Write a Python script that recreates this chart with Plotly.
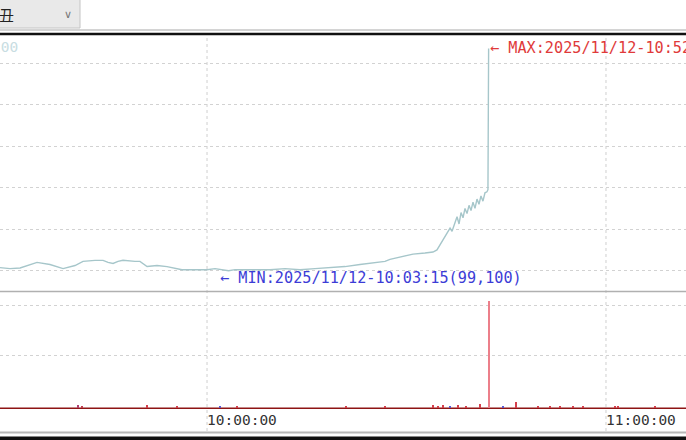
import plotly.graph_objects as go

DATE = "2025-11-12"

# ---- price series (time, price) ----
price_times = [
    "09:28:52", "09:30:22", "09:31:53", "09:33:05", "09:34:26", "09:36:23", "09:38:21",
    "09:40:09", "09:41:21", "09:43:09", "09:44:22", "09:45:07", "09:45:52", "09:46:37",
    "09:47:22", "09:49:10", "09:49:55", "09:50:59", "09:52:29", "09:53:59", "09:55:11",
    "09:56:14", "09:57:09", "09:57:54", "09:58:57", "10:00:00", "10:01:12", "10:02:15",
    "10:03:15", "10:04:13", "10:05:43", "10:07:13", "10:09:28", "10:11:44", "10:13:59",
    "10:16:14", "10:18:30", "10:20:45", "10:23:00", "10:25:16", "10:26:46", "10:27:31",
    "10:29:01", "10:30:59", "10:32:47", "10:33:59", "10:34:35", "10:35:02", "10:35:38",
    "10:36:06", "10:36:33", "10:36:51", "10:37:18", "10:37:36", "10:37:54", "10:38:12",
    "10:38:30", "10:38:48", "10:39:06", "10:39:24", "10:39:42", "10:40:00", "10:40:18",
    "10:40:36", "10:40:54", "10:41:12", "10:41:30", "10:41:48", "10:42:06", "10:42:15",
    "10:42:21",
]
prices = [
    99115, 99110, 99113, 99125, 99140, 99130, 99110,
    99125, 99145, 99150, 99150, 99140, 99135, 99145,
    99150, 99145, 99145, 99120, 99125, 99120, 99110,
    99105, 99105, 99105, 99105, 99105, 99110, 99105,
    99100, 99105, 99105, 99105, 99105, 99110, 99105,
    99110, 99115, 99120, 99130, 99140, 99145, 99155,
    99165, 99180, 99185, 99190, 99200, 99225, 99260,
    99280, 99305, 99290, 99335, 99360, 99325, 99380,
    99355, 99400, 99375, 99415, 99390, 99430, 99400,
    99445, 99420, 99460, 99435, 99475, 99480, 99490,
    100170,
]

# ---- volume series ----
vol_times = [
    "09:40:36", "09:41:12", "09:50:59", "09:55:29", "10:01:57", "10:04:31", "10:20:54",
    "10:26:46", "10:33:59", "10:34:44", "10:35:29", "10:36:33", "10:37:45", "10:38:57",
    "10:41:03", "10:42:25", "10:44:31", "10:46:28", "10:49:47", "10:51:35", "10:53:05",
    "10:55:02", "10:56:33", "11:01:21", "11:01:48", "11:07:22",
]
volumes = [
    60, 40, 60, 50, 50, 50, 40,
    50, 60, 50, 60, 50, 60, 50,
    80, 2140, 50, 120, 50, 40, 40,
    40, 40, 50, 40, 50,
]
vol_colors = [
    "#b04070", "#c04050", "#d4404c", "#d4404c", "#5a5ad0", "#d4404c", "#d4404c",
    "#d4404c", "#d4404c", "#d4404c", "#d4404c", "#5a5ad0", "#d4404c", "#d4404c",
    "#d4404c", "#ec7f8a", "#5a5ad0", "#d4404c", "#d4404c", "#d4404c", "#d4404c",
    "#d4404c", "#d4404c", "#d4404c", "#d4404c", "#d4404c",
]

# ---- axis ticks ----
tick_times = ["10:00:00", "11:00:00"]
tick_labels = ["10:00:00", "11:00:00"]
price_grid_start = 99100
price_grid_step = 200
vol_grid_vals = [1060, 2060]

max_label_time = "10:52:40"

def ts(t):
    return f"{DATE} {t}"

W, H = 686, 440
def py(p):
    return 1 - p / H
def px(p):
    return p / W

MONO = "DejaVu Sans Mono"

fig = go.Figure()
fig.add_trace(go.Scatter(
    x=[ts(t) for t in price_times], y=prices, mode="lines",
    line=dict(color="#a6c6ca", width=1.4), yaxis="y", xaxis="x",
    showlegend=False, hoverinfo="skip",
))
fig.add_trace(go.Bar(
    x=[ts(t) for t in vol_times], y=volumes, marker=dict(color=vol_colors, line=dict(width=0)),
    width=16000, yaxis="y2", xaxis="x", showlegend=False, hoverinfo="skip",
))

i_min = prices.index(min(prices))
i_max = prices.index(max(prices))
d_slash = DATE.replace("-", "/")

annotations = [
    dict(x=ts(price_times[i_min]), y=prices[i_min], xref="x", yref="y",
         text=f"← MIN:{d_slash}-{price_times[i_min]}({prices[i_min]:,})",
         showarrow=False, xanchor="left", yanchor="middle", xshift=-11, yshift=-7,
         font=dict(family=MONO, size=15.2, color="#3c3cd6")),
    dict(x=ts(price_times[i_max]), y=prices[i_max], xref="x", yref="y",
         text=f"← MAX:{d_slash}-{max_label_time}({prices[i_max]:,})",
         showarrow=False, xanchor="left", yanchor="middle", xshift=-1, yshift=0,
         font=dict(family=MONO, size=15.2, color="#e03a3a")),
    dict(x=px(20), y=py(47), xref="paper", yref="paper", text="100,200",
         showarrow=False, xanchor="right", yanchor="middle",
         font=dict(family=MONO, size=14.5, color="#c8dde2")),
    dict(x=px(7), y=py(15), xref="paper", yref="paper", text="丑",
         showarrow=False, xanchor="center", yanchor="middle",
         font=dict(family="Noto Sans CJK JP", size=15, color="#222")),
    dict(x=px(68), y=py(15), xref="paper", yref="paper", text="∨",
         showarrow=False, xanchor="center", yanchor="middle",
         font=dict(family="DejaVu Sans", size=11, color="#777")),
]
for t, lab in zip(tick_times, tick_labels):
    annotations.append(dict(
        x=ts(t), y=py(420), xref="x", yref="paper", text=lab, showarrow=False,
        xanchor="left", yanchor="middle", xshift=-2,
        font=dict(family=MONO, size=14.5, color="#333")))

shapes = []
# vertical dashed gridlines at the tick times
for t in tick_times:
    shapes.append(dict(type="line", xref="x", yref="paper", x0=ts(t), x1=ts(t),
                       y0=py(431), y1=py(36), layer="below",
                       line=dict(color="#cfcfcf", width=1, dash="3px,3px")))
# frame decorations
shapes += [
    dict(type="rect", xref="paper", yref="paper", x0=px(-2), x1=px(80), y0=py(28), y1=py(-2),
         fillcolor="#e9e9e9", line=dict(color="#c4c4c4", width=1), layer="below"),
    dict(type="line", xref="paper", yref="paper", x0=0, x1=1, y0=py(30), y1=py(30),
         line=dict(color="#a8a8a8", width=1), layer="above"),
    dict(type="line", xref="paper", yref="paper", x0=0, x1=1, y0=py(34), y1=py(34),
         line=dict(color="#111", width=2.5), layer="above"),
    dict(type="line", xref="paper", yref="paper", x0=0, x1=1, y0=py(291.5), y1=py(291.5),
         line=dict(color="#b0b0b0", width=1.5), layer="above"),
    dict(type="line", xref="paper", yref="paper", x0=0, x1=1, y0=py(408.3), y1=py(408.3),
         line=dict(color="#8e1414", width=1.5), layer="below"),
    dict(type="line", xref="paper", yref="paper", x0=0, x1=1, y0=py(432.5), y1=py(432.5),
         line=dict(color="#b8b8b8", width=2), layer="above"),
    dict(type="rect", xref="paper", yref="paper", x0=0, x1=1, y0=py(441), y1=py(436.5),
         fillcolor="#111", line=dict(width=0), layer="above"),
]

fig.update_layout(
    width=W, height=H, margin=dict(l=0, r=0, t=0, b=0),
    paper_bgcolor="white", plot_bgcolor="white",
    xaxis=dict(type="date", range=[ts("09:28:52"), ts("11:12:02")], domain=[0, 1],
               showgrid=False, showticklabels=False, zeroline=False, showline=False,
               ticks="", anchor="y2"),
    yaxis=dict(domain=[py(291.7), py(36)], range=[98999, 100230],
               tick0=price_grid_start, dtick=price_grid_step,
               showgrid=True, gridcolor="#d2d2d2", griddash="3px,3px", gridwidth=1,
               showticklabels=False, zeroline=False, showline=False, ticks=""),
    yaxis2=dict(domain=[py(408.3), py(292)], range=[0, 2320],
                tickmode="array", tickvals=vol_grid_vals,
                showgrid=True, gridcolor="#d2d2d2", griddash="3px,3px", gridwidth=1,
                showticklabels=False, zeroline=False, showline=False, ticks=""),
    bargap=0,
    annotations=annotations,
    shapes=shapes,
)

fig.write_html(
    "out.html",
    config={"displayModeBar": False},
    post_script="document.body.style.margin='0';document.body.style.padding='0';"
                "document.body.style.overflow='hidden';window.dispatchEvent(new Event('resize'));",
)
